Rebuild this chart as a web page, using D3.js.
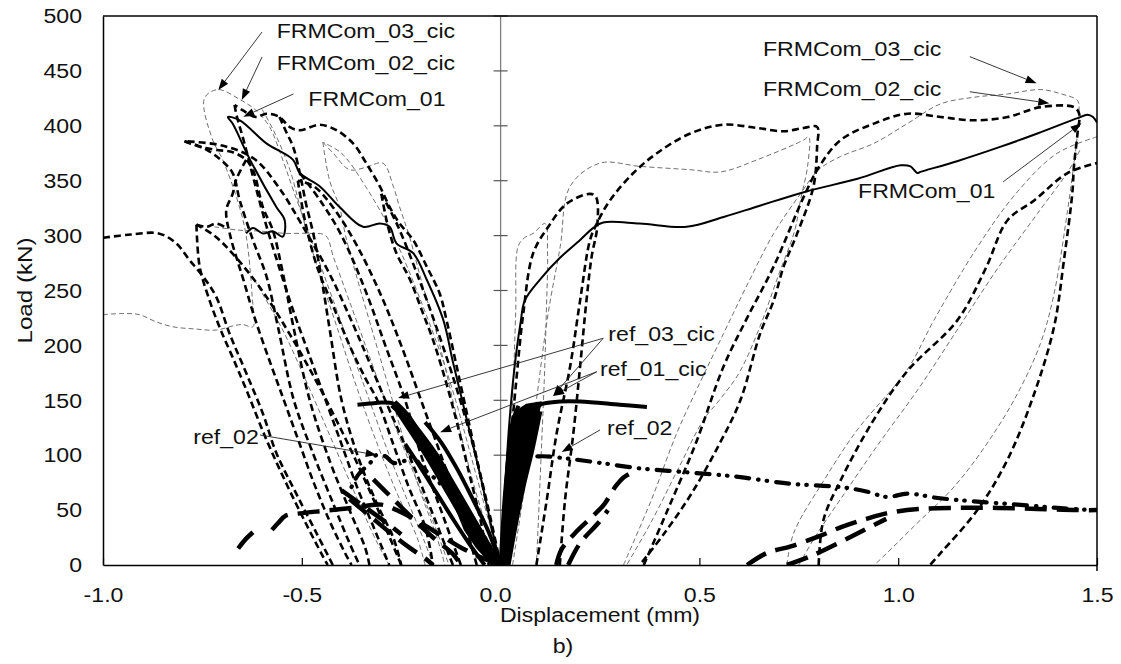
<!DOCTYPE html>
<html><head><meta charset="utf-8">
<script src="https://cdn.jsdelivr.net/npm/d3@7"></script>
<style>body{margin:0;background:#fff}text{font-family:"Liberation Sans",Arial,sans-serif;fill:#111}</style>
</head><body><svg id="c" width="1121" height="664"></svg>
<script>
// ---------- tick values ----------
const xTicks=[-1,-0.5,0,0.5,1,1.5];
const yTicks=[0,50,100,150,200,250,300,350,400,450,500];

// ---------- FRMCom_01 (solid) ----------
const frm01=[
 [[0,0],[0.01,60],[0.02,120],[0.035,180],[0.05,220],[0.061,241],[0.099,260],[0.15,280],[0.2,296],[0.233,307],[0.258,312],[0.35,311],[0.468,308],[0.561,317],[0.65,327],[0.767,340],[0.9,352],[1.006,364],[1.031,363],[1.048,357],[1.056,358],[1.15,368],[1.258,381],[1.35,393],[1.451,407],[1.476,410],[1.49,408],[1.5,403]],
 [[0,0],[-0.02,30],[-0.05,80],[-0.09,140],[-0.12,185],[-0.144,223],[-0.186,260],[-0.22,284],[-0.262,293],[-0.279,308],[-0.304,311],[-0.346,308],[-0.405,326],[-0.455,345],[-0.505,357],[-0.522,369],[-0.589,384],[-0.656,405],[-0.686,408],[-0.674,402],[-0.63,369],[-0.564,326],[-0.543,314],[-0.548,299],[-0.573,304],[-0.598,302],[-0.623,307],[-0.64,302]]
];

// ---------- FRMCom_02_cic (thick dashed) ----------
const frm02Right=[
 [[0,0],[0.02,90],[0.04,170],[0.057,229],[0.082,284],[0.12,308],[0.166,329],[0.225,338],[0.24,335],[0.243,308],[0.229,281],[0.216,241],[0.2,181],[0.183,120],[0.162,59],[0.149,0]],
 [[0.09,0],[0.116,59],[0.141,120],[0.175,181],[0.2,241],[0.225,296],[0.242,311],[0.275,332],[0.334,357],[0.393,375],[0.477,393],[0.561,401],[0.645,398],[0.712,395],[0.762,398],[0.796,399],[0.796,381],[0.787,345],[0.746,302],[0.712,272],[0.687,241],[0.653,211],[0.603,150],[0.55,110],[0.48,65],[0.41,28],[0.35,0]],
 [[0.36,0],[0.42,50],[0.49,110],[0.561,181],[0.62,225],[0.687,272],[0.762,335],[0.8,362],[0.855,387],[0.939,402],[1.023,411],[1.107,408],[1.191,405],[1.275,408],[1.358,417],[1.442,417],[1.455,411],[1.451,393],[1.442,363],[1.438,339],[1.417,278],[1.392,217],[1.342,156],[1.275,96],[1.199,50],[1.107,11],[1.08,0]],
 [[0.8,0],[0.812,41],[0.855,77],[0.938,132],[1.024,177],[1.149,223],[1.22,270],[1.275,314],[1.342,332],[1.426,357],[1.5,366]]
];
const frm02Left=[
 [[-1.0,298],[-0.93,301],[-0.86,302],[-0.816,293],[-0.783,278],[-0.749,263],[-0.715,244],[-0.682,211],[-0.64,175],[-0.598,138],[-0.564,102],[-0.514,65],[-0.463,29],[-0.422,0]],
 [[-0.765,310],[-0.757,272],[-0.732,241],[-0.705,215],[-0.675,190],[-0.64,160],[-0.59,115],[-0.54,75],[-0.49,38],[-0.45,10],[-0.435,0]],
 [[-0.765,310],[-0.74,308],[-0.715,311],[-0.694,308]],
 [[-0.795,386],[-0.757,381],[-0.715,378],[-0.674,376],[-0.64,369],[-0.623,360],[-0.615,351],[-0.598,326],[-0.573,305],[-0.55,270],[-0.52,215],[-0.48,150],[-0.43,95],[-0.38,50],[-0.34,15],[-0.33,0]],
 [[-0.795,386],[-0.749,380],[-0.707,370],[-0.674,357],[-0.656,332],[-0.623,296],[-0.589,263],[-0.56,217],[-0.52,150],[-0.47,100],[-0.42,55],[-0.38,20],[-0.355,0]],
 [[-0.64,369],[-0.665,351],[-0.674,338],[-0.69,323],[-0.68,300],[-0.66,275],[-0.647,260],[-0.622,229],[-0.59,195],[-0.55,155],[-0.51,115],[-0.47,75],[-0.43,40],[-0.39,10],[-0.375,0]],
 [[0,0],[-0.02,30],[-0.05,80],[-0.08,130],[-0.11,180],[-0.136,223],[-0.153,247],[-0.186,272],[-0.22,296],[-0.254,311],[-0.279,326],[-0.304,345],[-0.338,366],[-0.371,384],[-0.413,396],[-0.455,401],[-0.505,396],[-0.531,399],[-0.556,408],[-0.589,411],[-0.615,408],[-0.648,414],[-0.669,419]],
 [[-0.669,419],[-0.665,411],[-0.645,385],[-0.62,350],[-0.59,310],[-0.556,270],[-0.52,230],[-0.48,190],[-0.44,150],[-0.40,110],[-0.36,70],[-0.32,35],[-0.28,0]],
 [[-0.556,408],[-0.54,395],[-0.522,381],[-0.505,357],[-0.49,330],[-0.47,300],[-0.45,260],[-0.43,215],[-0.40,150],[-0.36,100],[-0.31,55],[-0.27,25],[-0.25,0]],
 [[-0.51,350],[-0.49,310],[-0.46,270],[-0.42,235],[-0.38,200],[-0.34,170],[-0.31,150],[-0.27,110],[-0.23,70],[-0.19,35],[-0.17,0]],
 [[-0.3,338],[-0.283,308],[-0.262,284],[-0.228,260],[-0.195,229],[-0.17,205],[-0.14,170],[-0.11,130],[-0.08,85],[-0.05,40],[-0.03,0]],
 [[0,0],[-0.03,50],[-0.07,110],[-0.11,160],[-0.16,215],[-0.21,265],[-0.26,310],[-0.3,338]],
 [[-0.06,0],[-0.1,50],[-0.15,100],[-0.2,150],[-0.25,200],[-0.3,245],[-0.36,290],[-0.42,325],[-0.47,345],[-0.51,350]],
 [[-0.1,0],[-0.15,50],[-0.2,100],[-0.24,150],[-0.29,200],[-0.34,250],[-0.4,300],[-0.45,330],[-0.505,357]],
 [[-0.12,0],[-0.18,55],[-0.23,100],[-0.29,150],[-0.36,210],[-0.43,265],[-0.5,310],[-0.56,345],[-0.62,370],[-0.7,382],[-0.795,386]],
 [[-0.25,0],[-0.32,60],[-0.39,115],[-0.46,165],[-0.53,210],[-0.6,250],[-0.67,282],[-0.72,300],[-0.765,310]]
];

// ---------- FRMCom_03_cic (thin grey dashed) ----------
const frm03Right=[
 [[0,0],[0.015,60],[0.03,150],[0.038,230],[0.044,290],[0.06,298],[0.082,302],[0.112,311],[0.118,285],[0.115,230],[0.11,170],[0.102,100],[0.095,40],[0.09,0]],
 [[0.03,0],[0.06,70],[0.09,150],[0.12,230],[0.15,290],[0.175,345],[0.25,366],[0.351,363],[0.477,360],[0.553,358],[0.645,369],[0.762,387],[0.775,390],[0.772,363],[0.754,332],[0.74,305],[0.70,265],[0.65,215],[0.6,175],[0.55,150],[0.51,132],[0.45,90],[0.38,40],[0.317,0]],
 [[0.309,0],[0.38,60],[0.443,120],[0.5,165],[0.561,211],[0.62,255],[0.687,302],[0.754,338],[0.8,360],[0.855,372],[0.939,384],[1.023,402],[1.107,420],[1.191,426],[1.275,429],[1.359,433],[1.41,429],[1.451,423],[1.455,414],[1.45,390],[1.44,360],[1.426,323],[1.392,247],[1.358,202],[1.3,156],[1.224,111],[1.14,71],[1.039,35],[0.972,11],[0.94,0]],
 [[0.72,0],[0.737,29],[0.813,77],[0.897,123],[1.023,178],[1.09,223],[1.2,290],[1.3,340],[1.4,375],[1.5,390]],
 [[0.75,0],[0.79,25],[0.855,60],[0.95,110],[1.05,160],[1.15,215],[1.25,270],[1.35,320],[1.43,360],[1.46,380]]
];
const frm03Left=[
 [[-1.0,228],[-0.95,229],[-0.908,228],[-0.87,222],[-0.825,217],[-0.77,215],[-0.715,214],[-0.67,218],[-0.648,219],[-0.623,217],[-0.625,245],[-0.64,300],[-0.66,330],[-0.7,370],[-0.724,387],[-0.745,425],[-0.711,433],[-0.656,424],[-0.615,414],[-0.581,399],[-0.548,369],[-0.52,340],[-0.48,300],[-0.43,250],[-0.38,200],[-0.33,150],[-0.28,100],[-0.23,55],[-0.19,20],[-0.17,0]],
 [[-0.447,385],[-0.421,375],[-0.38,360],[-0.34,362],[-0.296,366],[-0.27,345],[-0.254,326],[-0.23,300],[-0.2,260],[-0.16,210],[-0.12,150],[-0.08,90],[-0.04,40],[0,0]],
 [[-0.447,385],[-0.43,350],[-0.405,326],[-0.39,300],[-0.36,260],[-0.32,210],[-0.28,160],[-0.24,110],[-0.2,65],[-0.16,25],[-0.14,0]],
 [[-0.72,308],[-0.66,305],[-0.6,304],[-0.54,302],[-0.48,302],[-0.44,300],[-0.42,280],[-0.38,240],[-0.33,190],[-0.28,140],[-0.22,85],[-0.17,40],[-0.13,0]],
 [[0,0],[-0.06,80],[-0.13,170],[-0.2,240],[-0.27,300],[-0.34,345],[-0.4,375],[-0.447,385]],
 [[-0.6,415],[-0.57,395],[-0.53,360],[-0.5,320],[-0.46,270],[-0.41,215],[-0.36,160],[-0.31,110],[-0.26,65],[-0.21,25],[-0.19,0]],
 [[-0.62,260],[-0.548,214],[-0.48,160],[-0.42,110],[-0.36,60],[-0.31,20],[-0.28,0]]
];

// ---------- ref_03_cic (thick solid) ----------
const ref03=[
 [[-0.36,146],[-0.33,147],[-0.3,148],[-0.27,147],[-0.25,140],[-0.22,125],[-0.18,104],[-0.14,80],[-0.1,55],[-0.06,30],[-0.02,8],[0,0]],
 [[-0.02,0],[-0.06,22],[-0.1,45],[-0.14,70],[-0.18,95],[-0.22,118],[-0.26,140]],
 [[0,0],[-0.04,25],[-0.08,50],[-0.12,75],[-0.16,100],[-0.2,120],[-0.24,138]],
 [[-0.04,0],[-0.08,20],[-0.12,42],[-0.16,65],[-0.2,88],[-0.24,110]],
 [[0,0],[-0.03,30],[-0.07,60],[-0.11,88],[-0.15,112],[-0.19,130]],
 [[0,0],[0.02,45],[0.04,85],[0.06,115],[0.08,135],[0.1,146],[0.107,147],[0.15,149],[0.2,149],[0.3,146],[0.368,144]],
 [[0.005,0],[0.015,50],[0.025,90],[0.04,120],[0.06,138],[0.08,145]],
 [[0.01,0],[0.03,40],[0.05,70],[0.065,95],[0.08,115],[0.095,135]],
 [[0,0],[0.01,60],[0.02,100],[0.03,130],[0.045,145]],
 [[0.02,0],[0.04,40],[0.06,75],[0.08,105],[0.1,140]]
];
// dense cores of the ref_03_cic loops (outlines of the inked regions)
const ref03Band=[[-0.27,147],[-0.24,136],[-0.2,114],[-0.16,90],[-0.12,66],[-0.08,42],[-0.04,18],[0,0]];
const ref03WedgeRight=[[0,0],[0.008,50],[0.016,95],[0.025,125],[0.04,140],[0.065,146],[0.1,148],[0.09,128],[0.075,105],[0.06,80],[0.045,50],[0.03,22],[0.015,0]];
const ref03WedgeLeft=[[0,0],[-0.04,20],[-0.08,38],[-0.11,50],[-0.09,32],[-0.06,16],[-0.03,4]];

// ---------- ref_02 (dash-dot) ----------
const ref02=[
 [[0,0],[0.02,40],[0.04,70],[0.06,90],[0.07,97],[0.1,99],[0.166,97],[0.25,93],[0.35,88],[0.45,85],[0.55,82],[0.603,80],[0.729,74],[0.855,71],[0.92,67],[0.972,62],[1.023,65],[1.1,61],[1.19,58],[1.3,55],[1.4,52],[1.49,50]],
 [[0,0],[-0.04,25],[-0.08,45],[-0.12,62],[-0.16,77],[-0.2,90],[-0.22,99],[-0.24,95],[-0.27,93],[-0.29,99],[-0.313,100],[-0.33,92],[-0.354,84],[-0.37,75],[-0.38,66]]
];

// ---------- ref_01_cic (long dash) ----------
const ref01=[
 [[0.62,0],[0.67,11],[0.73,17],[0.8,26],[0.86,35],[0.92,42],[0.97,47],[1.05,51],[1.15,52],[1.25,52],[1.35,51],[1.45,50],[1.5,50]],
 [[0.72,0],[0.78,8],[0.85,20],[0.92,33],[0.97,42]],
 [[0.14,0],[0.153,14],[0.187,29],[0.233,45],[0.26,55],[0.29,72],[0.31,80],[0.33,84]],
 [[0.17,0],[0.2,20],[0.245,38],[0.27,50]],
 [[-0.66,15],[-0.64,24],[-0.61,34]],
 [[-0.575,32],[-0.56,38],[-0.54,45],[-0.505,47],[-0.455,49],[-0.37,52],[-0.3,55],[-0.25,48],[-0.2,38],[-0.15,27],[-0.1,16],[-0.05,7],[0,0]],
 [[-0.38,60],[-0.33,45],[-0.28,30],[-0.23,16],[-0.19,6],[-0.17,0]],
 [[-0.32,78],[-0.27,60],[-0.22,42],[-0.17,25],[-0.12,10],[-0.1,0]],
 [[-0.4,68],[-0.35,55],[-0.3,42],[-0.25,28]]
];

// ---------- annotations ----------
const annoText=["FRMCom_03_cic","FRMCom_02_cic","FRMCom_01","FRMCom_03_cic","FRMCom_02_cic","FRMCom_01","ref_03_cic","ref_01_cic","ref_02","ref_02"];
const annoAt=[[-0.563,480],[-0.563,450.8],[-0.4837,418],[0.66,463.6],[0.66,427.1],[0.899,334.2],[0.271,204],[0.25,172.1],[0.2676,118.4],[-0.773,110.2]];
const arrowFrom=[[-0.6,485.4],[-0.6,462.7],[-0.521,429],[1.18,463],[1.18,431],[1.264,349],[0.258,206.5],[0.258,206.5],[0.2417,176],[0.2417,176],[0.25,123],[-0.605,118.4]];
const arrowTo=[[-0.71,432.6],[-0.651,423.5],[-0.647,408.3],[1.348,438.7],[1.38,420.5],[1.461,402.3],[-0.258,152],[0.132,154],[-0.152,121],[0.132,154],[0.1537,103],[-0.3116,100.2]];

// ---------- drawing ----------
const svg=d3.select("#c");
const x=d3.scaleLinear().domain([-1,1.5]).range([103,1097]);
const y=d3.scaleLinear().domain([0,500]).range([565,16]);
const SX="scale(1.1,1)";

svg.append("defs").append("clipPath").attr("id","clip").append("rect")
  .attr("x",x(-1)).attr("y",y(500)).attr("width",x(1.5)-x(-1)).attr("height",y(0)-y(500));

// centre axis
const cg=svg.append("g");
cg.append("line").attr("x1",x(0)).attr("x2",x(0)).attr("y1",y(0)).attr("y2",y(500)).attr("stroke","#808080").attr("stroke-width",1.3);
cg.selectAll("line.t").data(yTicks.slice(1)).join("line").attr("class","t")
  .attr("x1",x(0)-7).attr("x2",x(0)+7).attr("y1",d=>y(d)).attr("y2",d=>y(d)).attr("stroke","#555").attr("stroke-width",1.2);

const plot=svg.append("g").attr("clip-path","url(#clip)");
const line=d3.line().x(d=>x(d[0])).y(d=>y(d[1])).curve(d3.curveCatmullRom.alpha(0.5));
const poly=d3.line().x(d=>x(d[0])).y(d=>y(d[1])).curve(d3.curveLinearClosed);
function draw(segs,st){
  plot.append("g").selectAll("path").data(segs).join("path").attr("d",line)
   .attr("fill","none").attr("stroke",st.c||"#000").attr("stroke-width",st.w)
   .attr("stroke-dasharray",st.d||null).attr("stroke-linecap",st.cap||"butt").attr("stroke-linejoin","round");
}
draw(frm03Left,{c:"#707070",w:1,d:"5,3"});
draw(frm03Right,{c:"#707070",w:1,d:"5,3"});
draw(frm02Left,{w:2.6,d:"7,4"});
draw(frm02Right,{w:2.6,d:"7,4"});
draw(frm01,{w:2});
draw(ref01,{w:4.5,d:"22,10"});
draw(ref02,{w:4.2,d:"13,9,0.5,8,0.5,9",cap:"round"});
draw(ref03,{w:4});
draw([ref03Band],{w:9});
plot.append("path").attr("d",poly(ref03WedgeRight)).attr("fill","#000").attr("stroke","#000").attr("stroke-width",2);
plot.append("path").attr("d",poly(ref03WedgeLeft)).attr("fill","#000").attr("stroke","#000").attr("stroke-width",2);

// frame
svg.append("line").attr("x1",x(-1)).attr("x2",x(1.5)).attr("y1",y(500)).attr("y2",y(500)).attr("stroke","#000").attr("stroke-width",1.5);
svg.append("line").attr("x1",x(1.5)).attr("x2",x(1.5)).attr("y1",y(500)).attr("y2",y(0)+6).attr("stroke","#000").attr("stroke-width",1.5);

// axes
const gx=svg.append("g").attr("transform",`translate(0,${y(0)})`)
 .call(d3.axisBottom(x).tickValues(xTicks).tickFormat(d=>d.toFixed(1)).tickSizeInner(-7).tickSizeOuter(0).tickPadding(22));
const gy=svg.append("g").attr("transform",`translate(${x(-1)},0)`)
 .call(d3.axisLeft(y).tickValues(yTicks).tickSize(0).tickPadding(21));
[gx,gy].forEach(g=>{
  g.select(".domain").attr("stroke","#000").attr("stroke-width",1.5);
  g.selectAll(".tick line").attr("stroke","#000").attr("stroke-width",1.2);
  g.selectAll(".tick text").each(function(){
    const t=d3.select(this); const tx=+t.attr("x")||0, ty=+t.attr("y")||0;
    t.attr("x",0).attr("y",0).attr("transform",`translate(${tx},${ty}) ${SX}`)
     .style("font-family","'Liberation Sans',Arial,sans-serif").style("font-size","21px").attr("fill","#111");
  });
});
gx.selectAll(".tick text").filter(d=>d===0).attr("dx",-5);

// axis titles
svg.append("text").attr("transform",`translate(${(x(-1)+x(1.5))/2},622) ${SX}`).attr("text-anchor","middle").style("font-size","21px").text("Displacement (mm)");
svg.append("text").attr("transform",`translate(563,653) ${SX}`).attr("text-anchor","middle").style("font-size","21px").text("b)");
svg.append("text").attr("transform",`translate(32,${(y(0)+y(500))/2}) rotate(-90) scale(1.15,1)`).attr("text-anchor","middle").style("font-size","21px").text("Load (kN)");

// annotations
const ag=svg.append("g");
arrowFrom.forEach((f,i)=>{
  const x1=x(f[0]),y1=y(f[1]),x2=x(arrowTo[i][0]),y2=y(arrowTo[i][1]);
  const a=Math.atan2(y2-y1,x2-x1),L=11,W=4;
  const bx=x2-L*Math.cos(a),by=y2-L*Math.sin(a);
  ag.append("line").attr("x1",x1).attr("y1",y1).attr("x2",bx).attr("y2",by).attr("stroke","#222").attr("stroke-width",0.9);
  ag.append("path").attr("d",`M${x2},${y2}L${bx+W*Math.sin(a)},${by-W*Math.cos(a)}L${bx-W*Math.sin(a)},${by+W*Math.cos(a)}Z`).attr("fill","#000");
});
annoText.forEach((t,i)=>{
  ag.append("text").attr("transform",`translate(${x(annoAt[i][0])},${y(annoAt[i][1])}) ${SX}`).style("font-size","21px").text(t);
});
</script></body></html>
